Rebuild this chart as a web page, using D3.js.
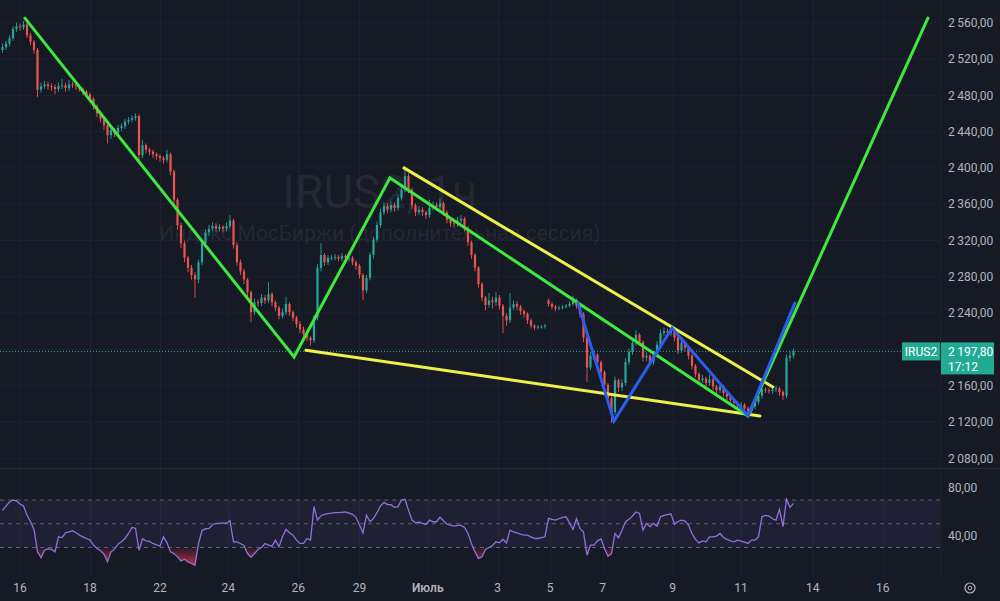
<!DOCTYPE html>
<html>
<head>
<meta charset="utf-8">
<script src="https://cdn.jsdelivr.net/npm/d3@7"></script>
<style>
  html, body { margin: 0; padding: 0; background: #161a25; }
  svg { display: block; font-family: Roboto, "Noto Sans", sans-serif; }
</style>
</head>
<body>
<svg id="chart" width="1000" height="601"></svg>
<script>
(function () {
  "use strict";

  // hourly bars, IRUS2 — closes / highs / lows
  const closes = [2533,2537,2543,2553,2556,2555,2558,2546,2539,2530,
    2486,2490,2492,2490,2489,2487,2490,2491,2488,2492,
    2491,2490,2487,2484,2481,2476,2468,2460,2454,2447,
    2436,2442,2438,2444,2446,2451,2453,2455,2457,2414,
    2425,2420,2418,2415,2413,2411,2409,2415,2396,2365,
    2337,2317,2301,2290,2282,2277,2296,2317,2329,2333,
    2336,2333,2335,2333,2336,2342,2315,2296,2286,2277,
    2263,2241,2252,2251,2257,2254,2261,2252,2246,2237,
    2241,2250,2241,2235,2228,2222,2217,2213,2210,2235,
    2290,2304,2296,2301,2301,2302,2300,2303,2301,2301,
    2296,2292,2282,2265,2279,2304,2321,2337,2351,2358,
    2354,2359,2356,2367,2376,2391,2376,2359,2351,2354,
    2351,2348,2356,2359,2357,2361,2351,2343,2339,2338,
    2342,2344,2334,2318,2304,2290,2272,2257,2249,2254,
    2252,2257,2248,2237,2232,2246,2250,2247,2242,2239,
    2232,2226,2224,2225,2225,2226,2250,2247,2245,2246,
    2247,2248,2250,2254,2248,2239,2213,2180,2193,2194,
    2186,2175,2161,2146,2131,2166,2158,2163,2186,2197,
    2207,2216,2208,2191,2193,2186,2194,2205,2218,2220,
    2218,2221,2213,2199,2207,2202,2193,2182,2173,2166,
    2168,2163,2167,2159,2155,2159,2152,2148,2144,2141,
    2138,2139,2135,2132,2137,2142,2149,2156,2155,2154,
    2156,2157,2153,2149,2191,2193,2197.8];

  const highs = [2537,2540,2546,2556,2560,2559,2562,2560,2549,2541,
    2532,2494,2496,2495,2493,2492,2494,2498,2494,2497,
    2495,2494,2492,2489,2486,2483,2478,2470,2462,2456,
    2449,2445,2444,2447,2449,2454,2456,2458,2460,2459,
    2431,2427,2422,2420,2417,2415,2413,2420,2417,2398,
    2367,2340,2320,2303,2293,2285,2299,2320,2332,2337,
    2340,2339,2338,2337,2340,2348,2344,2318,2299,2289,
    2279,2265,2256,2255,2261,2260,2274,2263,2254,2248,
    2245,2258,2252,2243,2237,2231,2225,2219,2215,2238,
    2294,2317,2306,2304,2304,2305,2304,2306,2305,2304,
    2303,2298,2294,2284,2282,2307,2324,2341,2355,2362,
    2361,2363,2362,2371,2380,2400,2394,2378,2361,2358,
    2357,2353,2365,2363,2362,2366,2363,2353,2345,2342,
    2346,2348,2346,2336,2320,2306,2292,2274,2259,2262,
    2258,2263,2260,2250,2240,2262,2254,2253,2249,2244,
    2241,2234,2228,2227,2227,2228,2256,2252,2249,2248,
    2249,2250,2253,2259,2256,2250,2241,2215,2197,2199,
    2196,2188,2177,2163,2148,2170,2168,2167,2190,2201,
    2211,2221,2218,2210,2197,2195,2198,2209,2222,2224,
    2223,2226,2223,2215,2211,2209,2204,2195,2184,2175,
    2172,2170,2172,2169,2161,2163,2161,2154,2150,2146,
    2143,2142,2141,2137,2140,2145,2152,2160,2158,2157,
    2159,2160,2159,2155,2194,2198,2201];

  const lows = [2527,2530,2534,2540,2550,2551,2552,2543,2535,2526,
    2478,2483,2487,2486,2485,2481,2484,2487,2484,2485,
    2488,2486,2484,2480,2477,2472,2464,2456,2450,2442,
    2427,2432,2434,2435,2441,2443,2448,2450,2452,2407,
    2411,2416,2414,2411,2409,2407,2405,2406,2392,2360,
    2332,2312,2296,2285,2277,2257,2273,2293,2314,2325,
    2330,2329,2330,2329,2330,2333,2311,2292,2282,2272,
    2258,2230,2238,2247,2248,2250,2251,2248,2242,2233,
    2234,2238,2237,2231,2224,2218,2213,2209,2204,2207,
    2232,2286,2292,2293,2298,2298,2297,2297,2298,2297,
    2293,2288,2278,2254,2262,2276,2300,2318,2334,2348,
    2350,2351,2352,2353,2364,2373,2372,2355,2347,2348,
    2347,2344,2345,2353,2353,2354,2347,2339,2335,2334,
    2335,2339,2330,2314,2300,2286,2268,2253,2243,2246,
    2245,2248,2244,2218,2226,2229,2243,2243,2238,2235,
    2228,2223,2221,2222,2223,2223,2247,2244,2242,2243,
    2244,2245,2246,2248,2245,2235,2208,2164,2177,2189,
    2182,2171,2157,2141,2119,2128,2153,2154,2160,2183,
    2194,2204,2204,2187,2187,2182,2183,2191,2202,2215,
    2214,2215,2209,2195,2196,2198,2189,2178,2169,2162,
    2163,2159,2160,2155,2151,2152,2148,2144,2141,2137,
    2135,2135,2132,2129,2130,2134,2139,2146,2152,2151,
    2151,2153,2149,2144,2146,2187,2190];

  // session opens that do not follow the previous close (bar index -> open)
  const sessionOpens = { 0: 2530, 156: 2254 };

  const rsi = [61.3,64.9,68.3,70,69.2,66.6,64.9,57.3,51.7,45.2,
    26.3,21.5,27.7,28.9,28.6,26.3,39.0,38.4,42.4,43.2,
    44.1,42.4,40.4,39.0,37.6,36.2,32.0,29.2,27.2,24.4,
    17.9,26.3,28.6,32.8,34.8,37.6,41.8,46.9,46.1,27.7,
    37.3,35.6,35.1,33.4,32.3,31.1,39.0,33.9,26.3,24.9,
    22.1,18.7,20.1,17.9,16.5,15.1,33.4,44.1,45.8,46.1,
    49.2,50.3,50.3,50.8,50.3,52.5,34.8,34.8,33.4,31.7,
    24.9,21.8,24.9,28.3,30.0,33.4,32.0,31.1,36.2,30.6,
    39.0,45.2,42.4,40.4,36.2,33.4,33.4,37.6,36.2,64.4,
    53.1,56.8,57.9,58.5,59.0,59.3,59.3,59.6,59.9,59.0,
    57.9,55.4,48.9,42.4,57.3,51.7,54.5,59.3,64.9,68.0,
    66.1,66.1,63.8,64.4,70.0,70.6,61.5,53.1,50.8,51.4,
    50.3,49.4,53.1,51.7,51.7,55.4,52.5,49.7,48.9,48.0,
    48.6,48.6,46.9,41.8,33.4,26.3,20.7,22.1,28.3,30.0,
    31.7,34.8,33.9,37.0,33.9,44.6,43.2,42.4,41.3,40.4,
    40.4,39.0,37.6,37.6,38.4,39.0,54.5,53.7,53.1,54.2,
    55.4,55.9,50.8,45.2,54.2,46.1,43.0,23.5,32.0,32.0,
    35.6,37.3,29.2,22.7,24.9,41.8,38.2,44.6,51.7,53.7,
    56.5,59.9,58.7,44.6,50.3,47.5,50.3,48.0,55.9,57.0,
    57.6,58.2,49.7,51.9,53.1,52.3,48.9,41.8,36.8,33.9,
    35.6,34.8,39.0,39.0,39.6,41.8,38.4,36.8,35.6,34.8,
    36.2,35.4,34.5,33.4,36.2,36.2,39.0,55.9,57.0,56.5,
    54.2,53.1,62.1,47.5,70.6,63.8,67.2];

  // time axis: labels and the bar index where each sits
  const timeLabels = ["16", "18", "22", "24", "26", "29", "Июль", "3", "5", "7", "9", "11", "14", "16"];
  const timeTickBars = [5, 25, 45, 64.5, 84.5, 102, 121.5, 141.5, 156.5, 171.5, 191.5, 211, 231.5, 251.5];
  const monthLabels = ["Июль"];

  const priceTicks = [2080, 2120, 2160, 2200, 2240, 2280, 2320, 2360, 2400, 2440, 2480, 2520, 2560];
  const rsiLevels = [70, 50, 30];
  const rsiTickLabels = [80, 40];

  // drawn lines: [bar index, price]
  const greenZigzag = [[6.4, 2565], [83.3, 2191.6], [110.7, 2389], [213, 2126.6], [264.4, 2565]];
  const yellowUpper = [[114.7, 2400], [220.1, 2158.6]];
  const yellowLower = [[86.7, 2199], [216.4, 2126.6]];
  const blueZigzag = [[164.4, 2251], [174.7, 2121], [191.3, 2223.6], [213, 2126.6], [226.4, 2251]];

  const lastPrice = 2197.8;
  const symbol = "IRUS2";
  const countdown = "17:12";
  const titleMain = "IRUS2, 1ч";
  const titleSub = "Индекс МосБиржи (дополнительная сессия)";

  const W = 1000, H = 601;
  const plotRight = 940;
  const priceBottom = 468;
  const rsiTop = 469, rsiBottom = 576;

  const UP = "#26a69a", DOWN = "#ef5350";
  const TEXT = "#b2b5be";
  const GRID = "#1e2230";

  const svg = d3.select("#chart");

  const x = d3.scaleLinear().domain([-0.714, 267.86]).range([0, plotRight]);
  const y = d3.scaleLinear().domain([2080, 2560]).range([458.3, 22.7]);
  const ry = d3.scaleLinear().domain([30, 70]).range([547.5, 500]);

  const fmt = (v) => {
    const s = v.toFixed(2).replace(".", ",");
    const [ip, dp] = s.split(",");
    return ip.replace(/\B(?=(\d{3})+(?!\d))/g, "\u2009") + "," + dp;
  };

  const bars = closes.map((c, i) => ({
    i,
    o: sessionOpens[i] != null ? sessionOpens[i] : closes[i - 1],
    h: highs[i],
    l: lows[i],
    c
  }));

  svg.append("rect").attr("width", W).attr("height", H).attr("fill", "#161a25");

  const defs = svg.append("defs");
  defs.append("clipPath").attr("id", "price-clip")
    .append("rect").attr("x", 0).attr("y", 0).attr("width", plotRight).attr("height", priceBottom);
  defs.append("clipPath").attr("id", "rsi-clip")
    .append("rect").attr("x", 0).attr("y", rsiTop).attr("width", plotRight).attr("height", rsiBottom - rsiTop);
  const grad = defs.append("linearGradient").attr("id", "os-grad")
    .attr("gradientUnits", "userSpaceOnUse")
    .attr("x1", 0).attr("x2", 0).attr("y1", ry(30)).attr("y2", ry(15));
  grad.append("stop").attr("offset", 0).attr("stop-color", "#f23645").attr("stop-opacity", 0.05);
  grad.append("stop").attr("offset", 1).attr("stop-color", "#f23645").attr("stop-opacity", 0.75);

  // grid
  const grid = svg.append("g");
  grid.selectAll("line.h").data(priceTicks).join("line")
    .attr("x1", 0).attr("x2", plotRight)
    .attr("y1", (d) => y(d)).attr("y2", (d) => y(d))
    .attr("stroke", GRID).attr("stroke-width", 1);
  grid.selectAll("line.v").data(timeTickBars).join("line")
    .attr("x1", (d) => Math.round(x(d)) + 0.5).attr("x2", (d) => Math.round(x(d)) + 0.5)
    .attr("y1", 0).attr("y2", rsiBottom)
    .attr("stroke", GRID).attr("stroke-width", 1);

  // pane separators
  svg.append("line").attr("x1", 0).attr("x2", W).attr("y1", priceBottom + 0.5).attr("y2", priceBottom + 0.5)
    .attr("stroke", "#2a2e39");
  svg.append("line").attr("x1", plotRight + 0.5).attr("x2", plotRight + 0.5).attr("y1", 0).attr("y2", rsiBottom)
    .attr("stroke", "#1f2330");

  // watermark
  const wm = svg.append("g").attr("fill", "#ffffff").attr("fill-opacity", 0.07).attr("text-anchor", "middle");
  wm.append("text").attr("x", 380).attr("y", 208).attr("font-size", 46).text(titleMain);
  wm.append("text").attr("x", 380).attr("y", 240).attr("font-size", 21).text(titleSub);

  // candles
  const pricePane = svg.append("g").attr("clip-path", "url(#price-clip)");
  const bodyW = 2.2;
  const candle = pricePane.selectAll("g.candle").data(bars).join("g")
    .attr("class", "candle");
  candle.append("line")
    .attr("x1", (d) => x(d.i)).attr("x2", (d) => x(d.i))
    .attr("y1", (d) => y(d.h)).attr("y2", (d) => y(d.l))
    .attr("stroke", (d) => (d.c >= d.o ? UP : DOWN)).attr("stroke-width", 0.9);
  candle.append("rect")
    .attr("x", (d) => x(d.i) - bodyW / 2)
    .attr("width", bodyW)
    .attr("y", (d) => y(Math.max(d.o, d.c)))
    .attr("height", (d) => Math.max(0.8, Math.abs(y(d.o) - y(d.c))))
    .attr("fill", (d) => (d.c >= d.o ? UP : DOWN));

  // last price dotted line
  svg.append("line")
    .attr("x1", 0).attr("x2", plotRight)
    .attr("y1", y(lastPrice)).attr("y2", y(lastPrice))
    .attr("stroke", "#22ab94").attr("stroke-width", 1).attr("stroke-dasharray", "1,2");

  // drawn lines
  const lineGen = d3.line().x((d) => x(d[0])).y((d) => y(d[1]));
  const drawn = svg.append("g").attr("fill", "none").attr("stroke-width", 3)
    .attr("stroke-linecap", "round").attr("stroke-linejoin", "miter");
  drawn.append("path").attr("d", lineGen(yellowUpper)).attr("stroke", "#eef04a");
  drawn.append("path").attr("d", lineGen(yellowLower)).attr("stroke", "#eef04a");
  drawn.append("path").attr("d", lineGen(greenZigzag)).attr("stroke", "#3ee83e");
  drawn.append("path").attr("d", lineGen(blueZigzag)).attr("stroke", "#2b5cf0");

  // RSI pane
  const rsiPane = svg.append("g").attr("clip-path", "url(#rsi-clip)");
  rsiPane.append("rect")
    .attr("x", 0).attr("width", plotRight)
    .attr("y", ry(70)).attr("height", ry(30) - ry(70))
    .attr("fill", "#7e57c2").attr("fill-opacity", 0.1);
  rsiPane.selectAll("line.lvl").data(rsiLevels).join("line")
    .attr("x1", 0).attr("x2", plotRight)
    .attr("y1", (d) => ry(d)).attr("y2", (d) => ry(d))
    .attr("stroke", "#787b86").attr("stroke-opacity", 0.7)
    .attr("stroke-dasharray", "4,4");
  const osArea = d3.area()
    .x((d, i) => x(i))
    .y0(ry(30))
    .y1((d) => ry(Math.min(d, 30)));
  rsiPane.append("path").attr("d", osArea(rsi)).attr("fill", "url(#os-grad)");
  const obArea = d3.area()
    .x((d, i) => x(i))
    .y0(ry(70))
    .y1((d) => ry(Math.max(d, 70)));
  rsiPane.append("path").attr("d", obArea(rsi)).attr("fill", "#089981").attr("fill-opacity", 0.4);
  rsiPane.append("path")
    .attr("d", d3.line().x((d, i) => x(i)).y((d) => ry(d))(rsi))
    .attr("fill", "none").attr("stroke", "#9170da").attr("stroke-width", 1.3);

  // right price axis
  const axisR = svg.append("g").attr("font-size", 12).attr("fill", TEXT);
  axisR.selectAll("text.p").data(priceTicks).join("text")
    .attr("x", 948).attr("y", (d) => y(d)).attr("dy", "0.35em")
    .text((d) => fmt(d));
  axisR.selectAll("text.r").data(rsiTickLabels).join("text")
    .attr("x", 948).attr("y", (d) => ry(d)).attr("dy", "0.35em")
    .text((d) => fmt(d));

  // last price label
  const ly = y(lastPrice);
  const lab = svg.append("g");
  lab.append("rect").attr("x", 902).attr("y", ly - 9).attr("width", 38).attr("height", 18)
    .attr("fill", "#22ab94");
  lab.append("text").attr("x", 921).attr("y", ly).attr("dy", "0.35em")
    .attr("text-anchor", "middle").attr("font-size", 12).attr("fill", "#ffffff").text(symbol);
  lab.append("rect").attr("x", 941).attr("y", ly - 9).attr("width", 53).attr("height", 32)
    .attr("fill", "#22ab94");
  lab.append("text").attr("x", 948).attr("y", ly).attr("dy", "0.35em")
    .attr("font-size", 12).attr("fill", "#ffffff").text(fmt(lastPrice));
  lab.append("text").attr("x", 948).attr("y", ly + 15).attr("dy", "0.35em")
    .attr("font-size", 12).attr("fill", "#ffffff").text(countdown);

  // time axis
  const axisB = svg.append("g").attr("font-size", 12).attr("fill", TEXT).attr("text-anchor", "middle");
  axisB.selectAll("text").data(timeLabels).join("text")
    .attr("x", (d, i) => x(timeTickBars[i]))
    .attr("y", 588).attr("dy", "0.35em")
    .attr("font-weight", (d) => (monthLabels.includes(d) ? 600 : 400))
    .text((d) => d);

  // settings icon
  svg.append("circle").attr("cx", 970).attr("cy", 588).attr("r", 5)
    .attr("fill", "none").attr("stroke", TEXT).attr("stroke-width", 1.2);
  svg.append("circle").attr("cx", 970).attr("cy", 588).attr("r", 1.8)
    .attr("fill", "none").attr("stroke", TEXT).attr("stroke-width", 1);
})();
</script>
</body>
</html>
